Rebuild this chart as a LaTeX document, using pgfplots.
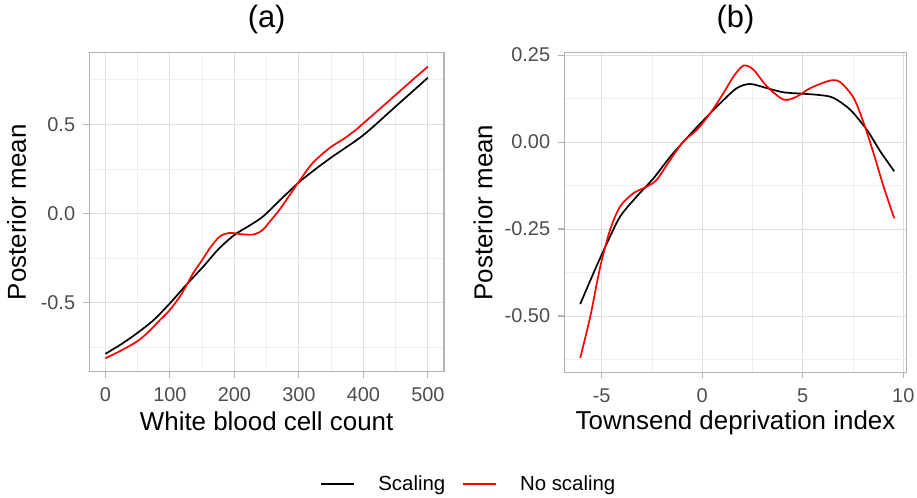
\documentclass[border=0pt]{standalone}
\usepackage{fontspec}
\setmainfont{Liberation Sans}
\usepackage{pgfplots}
\pgfplotsset{compat=1.18}
\definecolor{tickgray}{HTML}{4D4D4D}
\definecolor{bordergray}{HTML}{B3B3B3}
\definecolor{gridgray}{HTML}{DEDEDE}
\definecolor{minorgray}{HTML}{EEEEEE}
\pgfplotsset{
  mystyle/.style={
    scale only axis,
    axis line style={bordergray, line width=1.1bp},
    every tick/.style={bordergray, line width=1.1bp},
    major tick length=6bp,
    minor tick length=0bp,
    tick align=outside,
    xtick pos=lower, ytick pos=left,
    grid=both,
    major grid style={gridgray, line width=0.9bp},
    minor grid style={minorgray, line width=0.6bp},
    ticklabel style={font=\fontsize{20}{24}\selectfont, text=tickgray},
    /pgf/number format/assume math mode=true,
    label style={font=\fontsize{26}{30}\selectfont},
    title style={font=\fontsize{31}{36}\selectfont, anchor=base, at={(axis description cs:0.5,1.0602)}},
    xticklabel style={anchor=center, inner sep=0pt, yshift=-17.3bp},
    yticklabel style={anchor=east, inner sep=0pt, xshift=-8bp},
    xlabel style={anchor=base},
    ylabel style={anchor=center, rotate=0},
    every axis plot/.append style={line width=1.7bp, smooth, no markers},
  }
}
\begin{document}
\begin{tikzpicture}
\path[use as bounding box] (0,0) rectangle (917bp,498bp);
\begin{axis}[mystyle,
  at={(89.3bp,126.3bp)}, anchor=south west,
  width=354.7bp, height=319bp,
  xmin=-25, xmax=525, ymin=-0.885, ymax=0.901,
  xtick={0,100,200,300,400,500}, xticklabels={0,100,200,300,400,500},
  minor xtick={50,150,250,350,450},
  ytick={-0.5,0,0.5}, yticklabels={-0.5,0.0,0.5},
  minor ytick={-0.75,-0.25,0.25,0.75},
  title={(a)},
  xlabel={White blood cell count},
  ylabel={Posterior mean},
  xlabel style={at={(axis description cs:0.5,-0.1828)}},
  ylabel style={at={(axis description cs:-0.2052,0.5)}},
  legend style={at={(axis description cs:1.0677,-0.352)}, anchor=center, draw=none, fill=none,
    font=\fontsize{20.5}{24}\selectfont, nodes={inner sep=0pt},
    /tikz/every odd column/.append style={column sep=23bp},
    /tikz/every even column/.append style={column sep=17bp}},
  legend columns=2,
  legend image code/.code={\draw[#1, line width=1.7bp] (0bp,0bp) -- (33bp,0bp);},
]
\addplot[black] coordinates {(0,-0.785) (25,-0.73) (48.8,-0.670) (75,-0.595) (100,-0.502) (125,-0.40) (151.6,-0.297) (175,-0.20) (200,-0.119) (222,-0.07) (244,-0.017) (272,0.08) (300,0.175) (326,0.25) (352,0.319) (400,0.440) (450,0.60) (500,0.761)};
\addlegendentry{Scaling}
\addplot[red] coordinates {(0,-0.810) (25,-0.765) (48.8,-0.716) (66,-0.665) (84.8,-0.595) (100,-0.539) (118,-0.45) (136,-0.334) (150,-0.26) (161.9,-0.194) (177,-0.129) (192.7,-0.108) (213,-0.116) (231,-0.116) (244,-0.091) (256,-0.04) (269.8,0.021) (285,0.10) (300,0.179) (321,0.282) (347,0.366) (370,0.42) (388,0.468) (400,0.506) (425,0.585) (449.8,0.664) (475,0.745) (500,0.823)};
\addlegendentry{No scaling}
\end{axis}
\begin{axis}[mystyle,
  at={(564.3bp,125.7bp)}, anchor=south west,
  width=342.4bp, height=319.6bp,
  xmin=-6.86, xmax=10.17, ymin=-0.662, ymax=0.257,
  xtick={-5,0,5,10}, xticklabels={-5,0,5,10},
  minor xtick={-2.5,2.5,7.5},
  ytick={-0.5,-0.25,0,0.25}, yticklabels={-0.50,-0.25,0.00,0.25},
  minor ytick={-0.625,-0.375,-0.125,0.125},
  title={(b)},
  xlabel={Townsend deprivation index},
  ylabel={Posterior mean},
  xlabel style={at={(axis description cs:0.5,-0.1805)}},
  ylabel style={at={(axis description cs:-0.2374,0.5)}},
]
\addplot[black] coordinates {(-6.07,-0.466) (-5.41,-0.377) (-4.74,-0.291) (-4.08,-0.214) (-3.25,-0.156) (-2.42,-0.104) (-1.59,-0.042) (-0.76,0.012) (0,0.059) (0.90,0.112) (1.72,0.155) (2.39,0.167) (3.22,0.155) (4.05,0.143) (5.01,0.139) (5.87,0.135) (6.53,0.127) (7.36,0.093) (8.19,0.035) (8.86,-0.027) (9.55,-0.084)};
\addplot[red] coordinates {(-6.07,-0.621) (-5.57,-0.502) (-5.07,-0.358) (-4.58,-0.252) (-4.08,-0.185) (-3.42,-0.147) (-2.75,-0.128) (-2.26,-0.108) (-1.59,-0.051) (-0.93,0.002) (-0.27,0.035) (0.40,0.083) (1.06,0.141) (1.56,0.189) (2.06,0.220) (2.55,0.208) (3.22,0.160) (4.05,0.122) (4.71,0.131) (5.37,0.155) (6.37,0.177) (6.87,0.172) (7.53,0.127) (8.03,0.055) (8.52,-0.032) (9.02,-0.128) (9.55,-0.219)};
\end{axis}
\end{tikzpicture}
\end{document}
